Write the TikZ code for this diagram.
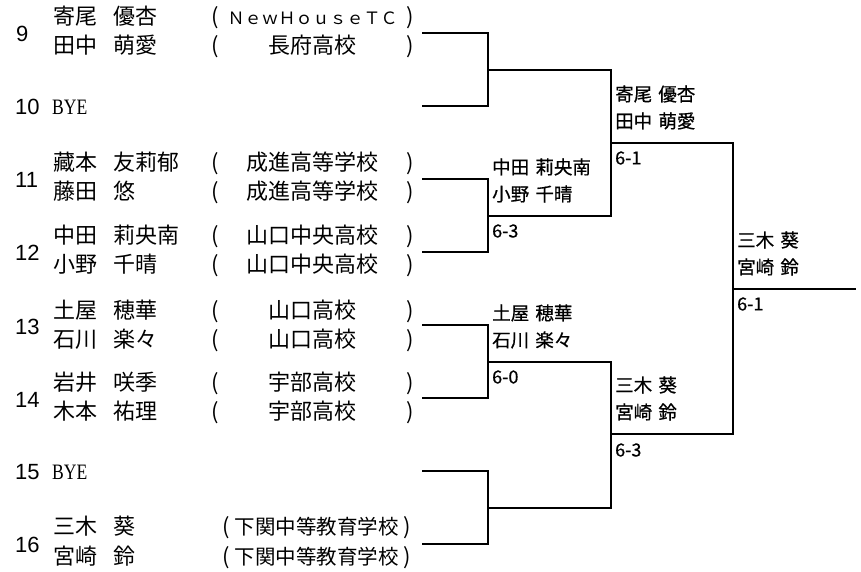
\documentclass[tikz,border=0pt]{standalone}
\usepackage{fontspec}
\setmainfont{Liberation Serif}
\newfontfamily\jpfont{Noto Sans CJK JP}
\newfontfamily\winfont[WordSpace=1.5,FakeBold=0.6]{Noto Sans CJK JP}
\newfontfamily\numfont{Liberation Sans}

% one player line: family name, given name, ( school )
\newcommand{\pairrow}[3]{%
  \makebox[60pt][l]{#1}\makebox[95pt][l]{#2}%
  \makebox[14pt][c]{(}\makebox[181pt][c]{#3}\makebox[14pt][c]{)}}
% same, with a longer school name
\newcommand{\pairrowlong}[3]{%
  \makebox[60pt][l]{#1}\makebox[106pt][l]{#2}%
  \makebox[14pt][c]{(}\makebox[167pt][c]{\fontsize{20.5}{20.5}\selectfont #3}\makebox[14pt][c]{)}}

\begin{document}
\begin{tikzpicture}[x=1pt,y=-1pt,
  seed/.style={anchor=west,inner sep=0pt,font=\numfont\fontsize{22}{22}\selectfont},
  player/.style={anchor=west,inner sep=0pt,font=\jpfont\fontsize{22}{22}\selectfont},
  bye/.style={anchor=west,inner sep=0pt,font=\fontsize{22}{22}\selectfont},
  winner/.style={anchor=west,inner sep=0pt,align=left,font=\winfont\fontsize{18.5}{27}\selectfont},
  score/.style={anchor=west,inner sep=0pt,font=\winfont\fontsize{18}{18}\selectfont},
  bracket/.style={line width=2pt,line join=miter}
]
\useasboundingbox (0,0) rectangle (861,571);

% draw entries
\node[seed] (no9) at (16,34) {9};
\node[player] (pl9a) at (53,17) {\pairrow{寄尾}{優杏}{{\fontsize{17}{17}\selectfont ＮｅｗＨｏｕｓｅＴＣ}}};
\node[player] (pl9b) at (53,46) {\pairrow{田中}{萌愛}{長府高校}};
\node[seed] (no10) at (15,107) {10};
\node[bye] (bye10) at (52,107) {\scalebox{0.8}[1]{BYE}};
\node[seed] (no11) at (15,180) {11};
\node[player] (pl11a) at (53,163) {\pairrow{藏本}{友莉郁}{成進高等学校}};
\node[player] (pl11b) at (53,192) {\pairrow{藤田}{悠}{成進高等学校}};
\node[seed] (no12) at (15,253) {12};
\node[player] (pl12a) at (53,236) {\pairrow{中田}{莉央南}{山口中央高校}};
\node[player] (pl12b) at (53,265) {\pairrow{小野}{千晴}{山口中央高校}};
\node[seed] (no13) at (15,327) {13};
\node[player] (pl13a) at (53,311) {\pairrow{土屋}{穂華}{山口高校}};
\node[player] (pl13b) at (53,340) {\pairrow{石川}{楽々}{山口高校}};
\node[seed] (no14) at (15,400) {14};
\node[player] (pl14a) at (53,383) {\pairrow{岩井}{咲季}{宇部高校}};
\node[player] (pl14b) at (53,412) {\pairrow{木本}{祐理}{宇部高校}};
\node[seed] (no15) at (15,472) {15};
\node[bye] (bye15) at (52,472) {\scalebox{0.8}[1]{BYE}};
\node[seed] (no16) at (15,545) {16};
\node[player] (pl16a) at (53,527) {\pairrowlong{三木}{葵}{下関中等教育学校}};
\node[player] (pl16b) at (53,557) {\pairrowlong{宮崎}{鈴}{下関中等教育学校}};

% bracket points
\coordinate (p9) at (422,33);
\coordinate (p10) at (422,106);
\coordinate (p11) at (422,179);
\coordinate (p12) at (422,252);
\coordinate (p13) at (422,325);
\coordinate (p14) at (422,398);
\coordinate (p15) at (422,471);
\coordinate (p16) at (422,544);
\coordinate (q1) at (488,70);
\coordinate (q2) at (488,216);
\coordinate (q3) at (488,362);
\coordinate (q4) at (488,508);
\coordinate (r1) at (611,143);
\coordinate (r2) at (611,434);
\coordinate (s1) at (733,289);
\coordinate (fin) at (856,289);

\draw[bracket] (p9) -| (q1) |- (p10);
\draw[bracket] (p11) -| (q2) |- (p12);
\draw[bracket] (p13) -| (q3) |- (p14);
\draw[bracket] (p15) -| (q4) |- (p16);
\draw[bracket] (q1) -| (r1) |- (q2);
\draw[bracket] (q3) -| (r2) |- (q4);
\draw[bracket] (r1) -| (s1) |- (r2);
\draw[bracket] (s1) -- (fin);

% winners and scores
\node[winner] (w11) at (492,180.5) {中田 莉央南\\小野 千晴};
\node[score] (sc11) at (492,231) {6-3};
\node[winner] (w13) at (492,326.5) {土屋 穂華\\石川 楽々};
\node[score] (sc13) at (492,377) {6-0};
\node[winner] (w9) at (615,107.5) {寄尾 優杏\\田中 萌愛};
\node[score] (sc9) at (615,158) {6-1};
\node[winner] (w16) at (615,398.5) {三木 葵\\宮崎 鈴};
\node[score] (sc16) at (615,450) {6-3};
\node[winner] (wf) at (737,253.5) {三木 葵\\宮崎 鈴};
\node[score] (scf) at (737,304) {6-1};
\end{tikzpicture}
\end{document}
